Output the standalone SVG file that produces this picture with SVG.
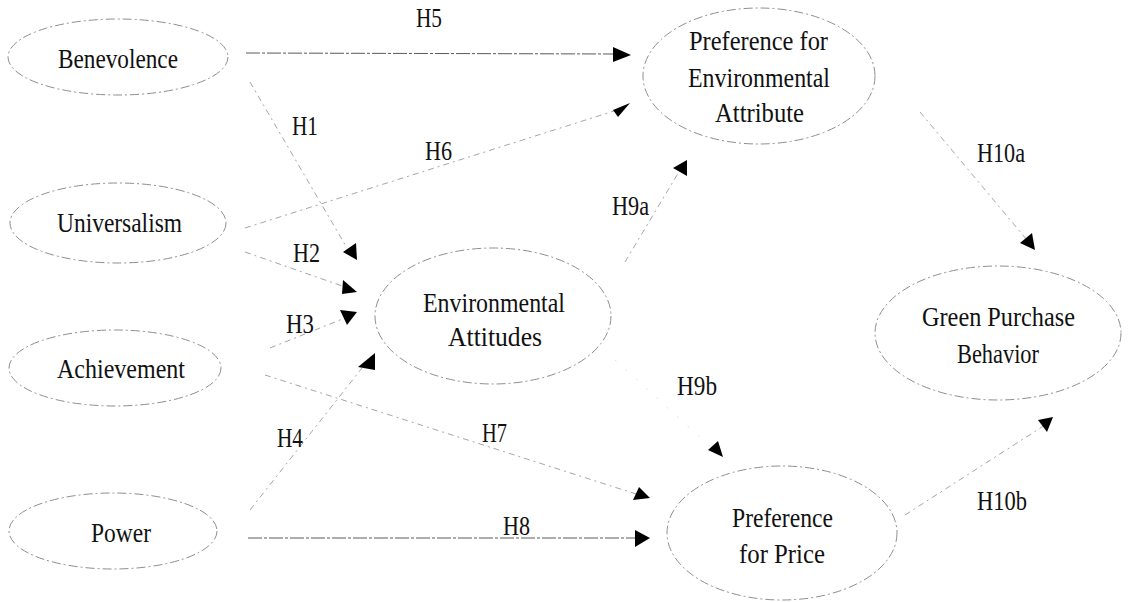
<svg xmlns="http://www.w3.org/2000/svg" width="1141" height="602" viewBox="0 0 1141 602">
<style>
.bg{fill:#ffffff}
.node ellipse{fill:none;stroke:#8f8f8f;stroke-width:1;stroke-dasharray:9 3 2 3}
.lbl{font-family:"Liberation Serif","Times New Roman",serif;font-size:27px;fill:#111}
.edge line{stroke:#a6a6a6;stroke-width:1;stroke-dasharray:6 4 2 4}
.edge line.dark{stroke:#5a5a5a;stroke-dasharray:14 2 3 2}
.edge line.faint{stroke:#e4e4e4;stroke-dasharray:2 12}
.edge polygon{fill:#000}
</style>
<rect class="bg" x="0" y="0" width="1141" height="602"/>
<g id="connectors" class="edge">
  <line class="dark" x1="246" y1="53" x2="614" y2="54"/>
  <polygon points="613,47 631,55 613,62"/>
  <line x1="245" y1="228" x2="614" y2="111"/>
  <polygon points="613,110 630,103 618,117"/>
  <line x1="250" y1="82" x2="347" y2="248"/>
  <polygon points="356,243 343,252 357,260"/>
  <line x1="245" y1="252" x2="345" y2="287"/>
  <polygon points="343,280 357,292 342,294"/>
  <line x1="270" y1="348" x2="345" y2="318"/>
  <polygon points="340,310 357,312 347,325"/>
  <line x1="250" y1="510" x2="362" y2="368"/>
  <polygon points="358,367 375,353 375,370"/>
  <line x1="265" y1="375" x2="636" y2="494"/>
  <polygon points="633,500 639,487 650,498"/>
  <line class="dark" x1="248" y1="538" x2="636" y2="538"/>
  <polygon points="635,530 650,538 635,547"/>
  <line x1="625" y1="262" x2="680" y2="170"/>
  <polygon points="673,168 687,160 687,176"/>
  <line class="faint" x1="615" y1="360" x2="712" y2="448"/>
  <polygon points="708,450 718,441 723,457"/>
  <line x1="920" y1="112" x2="1027" y2="240"/>
  <polygon points="1020,243 1032,233 1035,250"/>
  <line x1="905" y1="515" x2="1045" y2="425"/>
  <polygon points="1038,420 1053,417 1047,432"/>
  <text class="lbl" x="416" y="27" textLength="26" lengthAdjust="spacingAndGlyphs">H5</text>
  <text class="lbl" x="292" y="135" textLength="26" lengthAdjust="spacingAndGlyphs">H1</text>
  <text class="lbl" x="425" y="160" textLength="27" lengthAdjust="spacingAndGlyphs">H6</text>
  <text class="lbl" x="293" y="262" textLength="27" lengthAdjust="spacingAndGlyphs">H2</text>
  <text class="lbl" x="286" y="333" textLength="28" lengthAdjust="spacingAndGlyphs">H3</text>
  <text class="lbl" x="277" y="447" textLength="26" lengthAdjust="spacingAndGlyphs">H4</text>
  <text class="lbl" x="482" y="442" textLength="25" lengthAdjust="spacingAndGlyphs">H7</text>
  <text class="lbl" x="503" y="535" textLength="27" lengthAdjust="spacingAndGlyphs">H8</text>
  <text class="lbl" x="612" y="215" textLength="37" lengthAdjust="spacingAndGlyphs">H9a</text>
  <text class="lbl" x="677" y="395" textLength="40" lengthAdjust="spacingAndGlyphs">H9b</text>
  <text class="lbl" x="977" y="162" textLength="48" lengthAdjust="spacingAndGlyphs">H10a</text>
  <text class="lbl" x="977" y="510" textLength="50" lengthAdjust="spacingAndGlyphs">H10b</text>
</g>
<g id="benevolence" class="node">
  <ellipse cx="118" cy="57" rx="110" ry="38"/>
  <text class="lbl" x="58" y="68" textLength="120" lengthAdjust="spacingAndGlyphs">Benevolence</text>
</g>
<g id="universalism" class="node">
  <ellipse cx="118" cy="223" rx="108" ry="40"/>
  <text class="lbl" x="57" y="232" textLength="125" lengthAdjust="spacingAndGlyphs">Universalism</text>
</g>
<g id="achievement" class="node">
  <ellipse cx="115" cy="368" rx="106" ry="38"/>
  <text class="lbl" x="57" y="378" textLength="128" lengthAdjust="spacingAndGlyphs">Achievement</text>
</g>
<g id="power" class="node">
  <ellipse cx="113" cy="531" rx="104" ry="38"/>
  <text class="lbl" x="91" y="542" textLength="60" lengthAdjust="spacingAndGlyphs">Power</text>
</g>
<g id="environmental-attitudes" class="node">
  <ellipse cx="493" cy="316" rx="118" ry="68"/>
  <text class="lbl" x="423" y="312" textLength="142" lengthAdjust="spacingAndGlyphs">Environmental</text>
  <text class="lbl" x="448" y="346" textLength="94" lengthAdjust="spacingAndGlyphs">Attitudes</text>
</g>
<g id="preference-environmental-attribute" class="node">
  <ellipse cx="759" cy="76" rx="116" ry="68"/>
  <text class="lbl" x="689" y="50" textLength="139" lengthAdjust="spacingAndGlyphs">Preference for</text>
  <text class="lbl" x="688" y="87" textLength="142" lengthAdjust="spacingAndGlyphs">Environmental</text>
  <text class="lbl" x="715" y="122" textLength="89" lengthAdjust="spacingAndGlyphs">Attribute</text>
</g>
<g id="green-purchase-behavior" class="node">
  <ellipse cx="998" cy="333" rx="123" ry="67"/>
  <text class="lbl" x="922" y="326" textLength="153" lengthAdjust="spacingAndGlyphs">Green Purchase</text>
  <text class="lbl" x="957" y="363" textLength="82" lengthAdjust="spacingAndGlyphs">Behavior</text>
</g>
<g id="preference-price" class="node">
  <ellipse cx="782" cy="533" rx="115" ry="67"/>
  <text class="lbl" x="732" y="527" textLength="101" lengthAdjust="spacingAndGlyphs">Preference</text>
  <text class="lbl" x="739" y="563" textLength="86" lengthAdjust="spacingAndGlyphs">for Price</text>
</g>
</svg>
